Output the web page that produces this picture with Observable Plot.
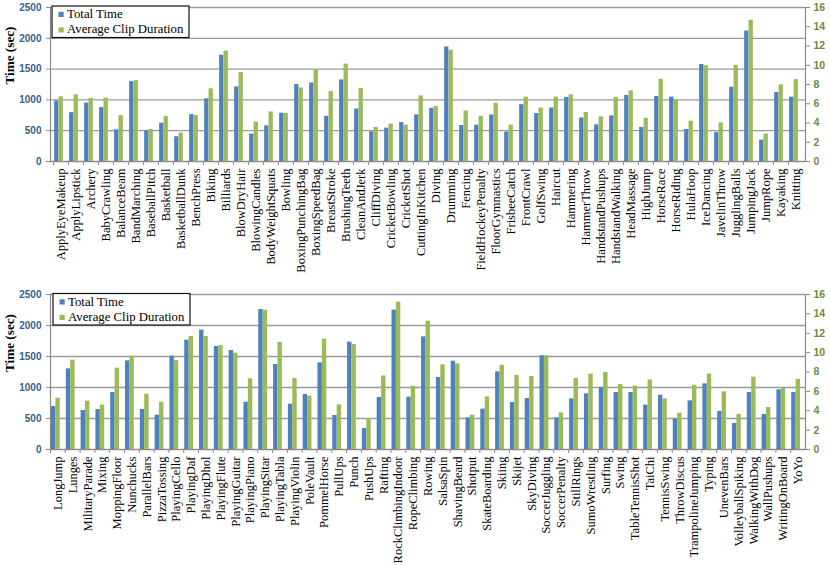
<!DOCTYPE html>
<html><head><meta charset="utf-8">
<script src="https://cdn.jsdelivr.net/npm/d3@7"></script>
<script src="https://cdn.jsdelivr.net/npm/@observablehq/plot@0.6"></script>
<style>
body{margin:0;background:#fff;}
#wrap{width:830px;}
.panel{position:relative;width:830px;}
.panel svg{display:block;}
</style></head><body><div id="wrap"></div>
<script>
const seriesNames = ["Total Time", "Average Clip Duration"];
const seriesColors = ["#4F81BD", "#9BBB59"];
const leftTicks = [0, 500, 1000, 1500, 2000, 2500];
const rightTicks = [0, 2, 4, 6, 8, 10, 12, 14, 16];

const topCategories = ["ApplyEyeMakeup","ApplyLipstick","Archery","BabyCrawling","BalanceBeam","BandMarching","BaseballPitch","Basketball","BasketballDunk","BenchPress","Biking","Billiards","BlowDryHair","BlowingCandles","BodyWeightSquats","Bowling","BoxingPunchingBag","BoxingSpeedBag","BreastStroke","BrushingTeeth","CleanAndJerk","CliffDiving","CricketBowling","CricketShot","CuttingInKitchen","Diving","Drumming","Fencing","FieldHockeyPenalty","FloorGymnastics","FrisbeeCatch","FrontCrawl","GolfSwing","Haircut","Hammering","HammerThrow","HandstandPushups","HandstandWalking","HeadMassage","HighJump","HorseRace","HorseRiding","HulaHoop","IceDancing","JavelinThrow","JugglingBalls","JumpingJack","JumpRope","Kayaking","Knitting"];
const topTotalTime = [981,793,949,874,514,1297,498,622,402,761,1018,1725,1211,445,579,783,1249,1275,734,1324,852,482,541,632,756,863,1860,584,590,756,477,922,777,868,1040,707,595,740,1072,552,1056,1045,520,1575,472,1206,2117,348,1120,1045];
const topAvgClip = [6.72,6.92,6.55,6.59,4.77,8.40,3.33,4.67,2.95,4.77,7.55,11.46,9.26,4.10,5.15,5.01,7.65,9.50,7.27,10.12,7.58,3.53,3.88,3.78,6.82,5.73,11.56,5.25,4.70,6.04,3.78,6.69,5.56,6.69,6.92,5.08,4.63,6.66,7.34,4.49,8.54,6.41,4.19,9.95,4.01,9.98,14.68,2.85,7.96,8.51];

const bottomCategories = ["LongJump","Lunges","MilitaryParade","Mixing","MoppingFloor","Nunchucks","ParallelBars","PizzaTossing","PlayingCello","PlayingDaf","PlayingDhol","PlayingFlute","PlayingGuitar","PlayingPiano","PlayingSitar","PlayingTabla","PlayingViolin","PoleVault","PommelHorse","PullUps","Punch","PushUps","Rafting","RockClimbingIndoor","RopeClimbing","Rowing","SalsaSpin","ShavingBeard","Shotput","SkateBoarding","Skiing","Skijet","SkyDiving","SoccerJuggling","SoccerPenalty","StillRings","SumoWrestling","Surfing","Swing","TableTennisShot","TaiChi","TennisSwing","ThrowDiscus","TrampolineJumping","Typing","UnevenBars","VolleyballSpiking","WalkingWithDog","WallPushups","WritingOnBoard","YoYo"];
const bottomTotalTime = [694,1301,629,645,919,1430,645,554,1505,1763,1925,1661,1597,763,2258,1371,731,887,1398,548,1731,339,839,2247,844,1817,1161,1425,511,651,1253,758,823,1511,511,817,898,1000,919,919,715,876,489,785,1059,613,419,919,565,962,919];
const bottomAvgClip = [5.30,9.22,4.99,4.58,8.40,9.63,5.71,4.88,9.18,11.67,11.67,10.73,9.95,7.30,14.38,11.05,7.33,5.50,11.39,4.61,10.84,3.20,7.60,15.21,6.54,13.25,8.74,8.84,3.55,5.43,8.70,7.64,7.53,9.67,3.78,7.33,7.78,7.95,6.71,6.54,7.19,5.23,3.75,6.64,7.78,5.95,3.62,7.47,4.33,6.33,7.23];

const leftMax = 2500, rightMax = 16;
const toLeft = v => v * leftMax / rightMax;

function makePanel(categories, total, clip, cfg) {
  const rows = categories.map((c, i) => ({cat: c, total: total[i], clip: toLeft(clip[i])}));
  const width = 830, ml = 50, mr = 25;
  const bw = (width - ml - mr) / categories.length;
  const off = -2, w = 4.4;
  const blueL = bw / 2 + off - w, blueR = bw / 2 + off;
  const chart = Plot.plot({
    width, height: cfg.height,
    marginLeft: ml, marginRight: mr, marginTop: cfg.mt, marginBottom: cfg.mb,
    x: {type: "band", domain: categories, padding: 0, axis: null},
    y: {domain: [0, leftMax], axis: null},
    marks: [
      Plot.gridY(leftTicks, {stroke: "#9a9a9a", strokeOpacity: 1, strokeWidth: 1.3}),
      Plot.barY(rows, {x: "cat", y: "total", fill: seriesColors[0],
        insetLeft: blueL, insetRight: bw - blueR}),
      Plot.barY(rows, {x: "cat", y: "clip", fill: seriesColors[1],
        insetLeft: blueR, insetRight: bw - blueR - w}),
      Plot.ruleY([0], {stroke: "#8a8a8a", strokeWidth: 1.2}),
      Plot.frame({anchor: "left", stroke: "#8a8a8a", strokeWidth: 1.2}),
      Plot.frame({anchor: "right", stroke: "#8a8a8a", strokeWidth: 1.2}),
      Plot.axisY({ticks: leftTicks, anchor: "left", tickSize: 4, tickPadding: 5,
        tickFormat: d => String(d),
        fontFamily: "Liberation Sans, Arial, sans-serif", fontWeight: "bold", fontSize: 10,
        fill: "#35618F", color: "#8a8a8a", label: null}),
      Plot.axisY({ticks: rightTicks.map(toLeft), anchor: "right", tickSize: 4, tickPadding: 4,
        tickFormat: d => String(Math.round(d * rightMax / leftMax)),
        fontFamily: "Liberation Sans, Arial, sans-serif", fontWeight: "bold", fontSize: 10.5,
        fill: "#6E8B3D", color: "#8a8a8a", label: null}),
      Plot.axisX({tickSize: 4, tickFormat: () => "", dx: -bw / 2, color: "#8a8a8a", label: null}),
      Plot.axisX({tickSize: 0, tickPadding: 7, tickRotate: -90, label: null,
        fontFamily: "Liberation Serif, Times New Roman, serif", fontSize: 12.5, fill: "#000"}),
      Plot.text(["Time (sec)"], {frameAnchor: "left", dx: -41, rotate: -90,
        fontFamily: "Liberation Serif, Times New Roman, serif", fontWeight: "bold", fontSize: 13.2, fill: "#000"})
    ]
  });
  // legend drawn inside the chart svg
  const svg = d3.select(chart);
  const g = svg.append("g").attr("transform", `translate(${cfg.lx},${cfg.ly})`)
    .attr("text-anchor", "start");
  g.append("rect").attr("x", 0.5).attr("y", 0.5).attr("width", 137).attr("height", 31.5)
    .attr("fill", "#fff").attr("stroke", "#111").attr("stroke-width", 1.2);
  seriesNames.forEach((n, i) => {
    g.append("rect").attr("x", 7).attr("y", 6.3 + 15.5 * i).attr("width", 5.2).attr("height", 5.2)
      .attr("fill", seriesColors[i]);
    g.append("text").attr("x", 15.5).attr("y", 12.6 + 15 * i).text(n)
      .attr("text-anchor", "start")
      .attr("font-family", "Liberation Serif, Times New Roman, serif").attr("font-size", 12.8)
      .attr("fill", "#000");
  });
  const panel = document.createElement("div");
  panel.className = "panel";
  panel.appendChild(chart);
  return panel;
}

const wrap = document.getElementById("wrap");
wrap.appendChild(makePanel(topCategories, topTotalTime, topAvgClip, {height: 285, mt: 7, mb: 124, lx: 51.5, ly: 5.5}));
wrap.appendChild(makePanel(bottomCategories, bottomTotalTime, bottomAvgClip, {height: 280, mt: 9, mb: 116, lx: 52.5, ly: 8}));
</script></body></html>
